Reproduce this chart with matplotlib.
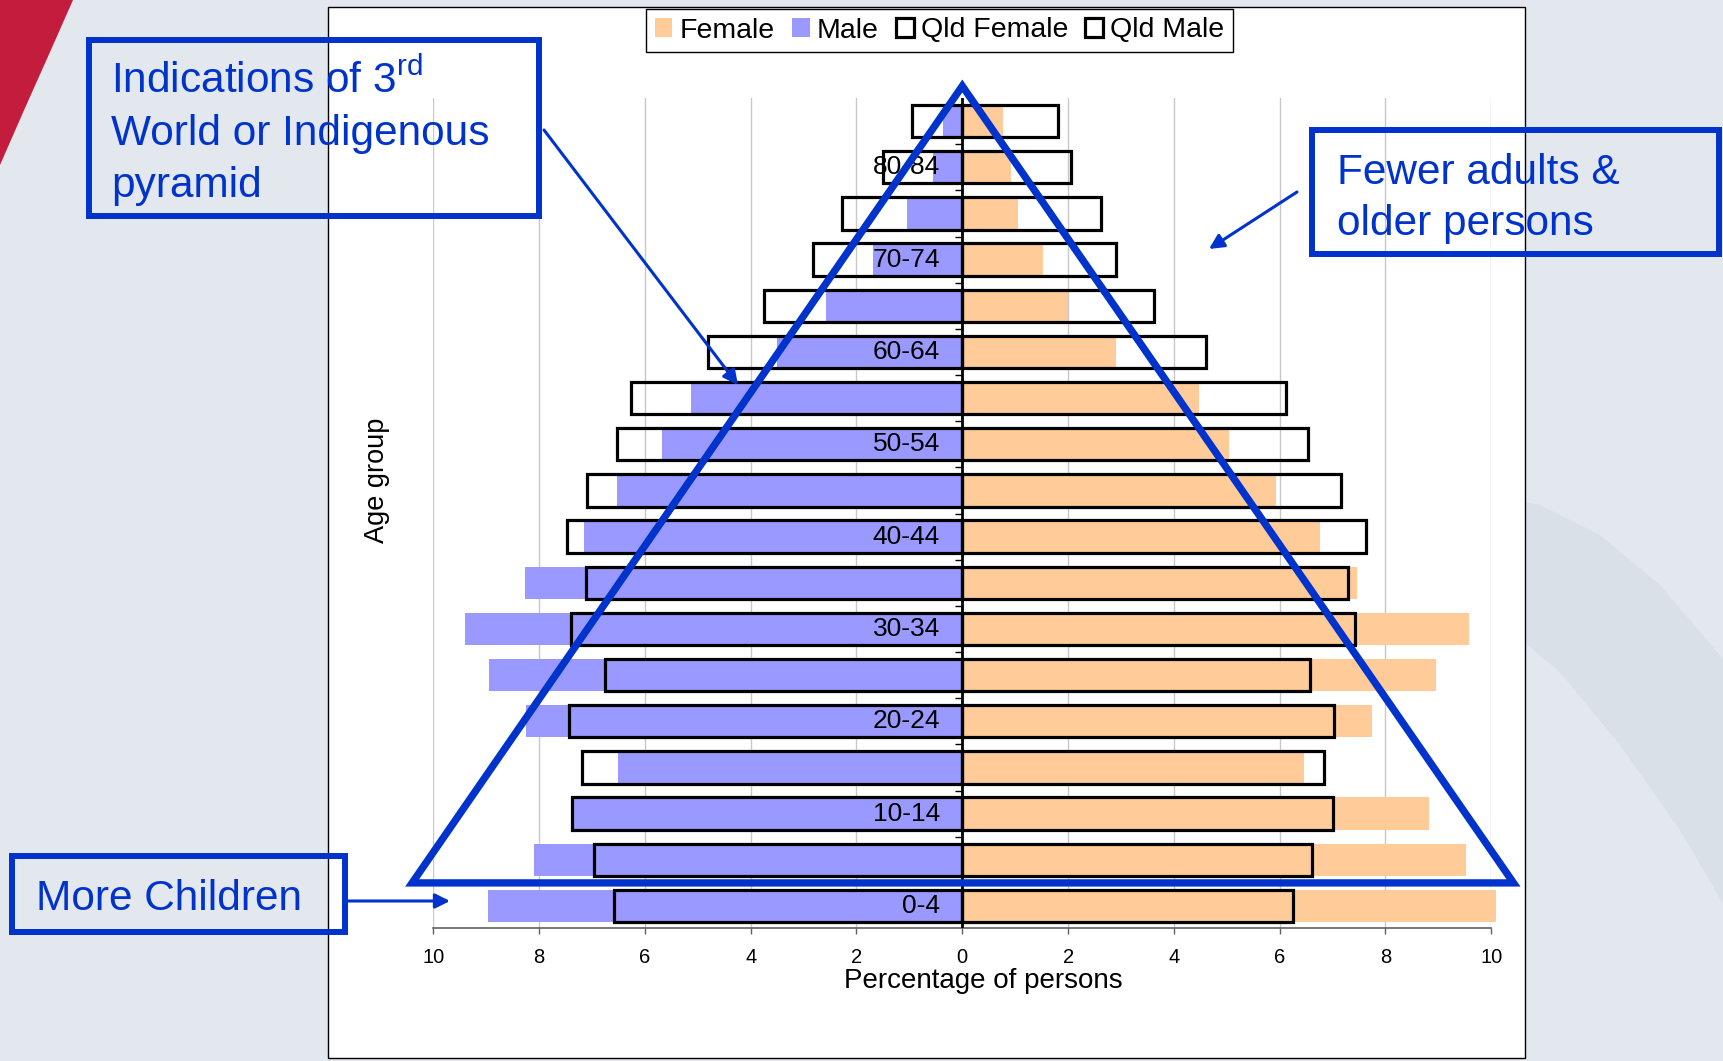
import matplotlib
matplotlib.use('Agg')
import matplotlib.pyplot as plt
from matplotlib.patches import Rectangle, Polygon
import numpy as np

# ---------------- data ----------------
age_groups = ['0-4', '5-9', '10-14', '15-19', '20-24', '25-29', '30-34', '35-39',
              '40-44', '45-49', '50-54', '55-59', '60-64', '65-69', '70-74',
              '75-79', '80-84', '85+']
female = [10.08, 9.52, 8.82, 6.46, 7.75, 8.95, 9.57, 7.46, 6.76, 5.93, 5.04,
          4.47, 2.90, 1.99, 1.52, 1.06, 0.93, 0.76]
male = [8.97, 8.10, 7.36, 6.50, 8.25, 8.95, 9.40, 8.27, 7.15, 6.53, 5.68,
        5.13, 3.51, 2.57, 1.68, 1.05, 0.55, 0.36]
qld_female = [6.26, 6.61, 7.00, 6.84, 7.02, 6.58, 7.42, 7.30, 7.63, 7.16, 6.54,
              6.12, 4.61, 3.63, 2.91, 2.63, 2.05, 1.81]
qld_male = [6.58, 6.97, 7.38, 7.19, 7.43, 6.75, 7.40, 7.11, 7.48, 7.09, 6.53,
            6.27, 4.81, 3.75, 2.83, 2.28, 1.49, 0.95]
x_ticks = [-10, -8, -6, -4, -2, 0, 2, 4, 6, 8, 10]
x_tick_labels = ['10', '8', '6', '4', '2', '0', '2', '4', '6', '8', '10']

# ---------------- style ----------------
W, H = 1724, 1061
BLUE = '#0033CC'
plt.rcParams['font.family'] = ['Liberation Sans', 'DejaVu Sans']
plt.rcParams['mathtext.fontset'] = 'custom'
plt.rcParams['mathtext.rm'] = 'Liberation Sans'
plt.rcParams['mathtext.it'] = 'Liberation Sans:italic'
plt.rcParams['mathtext.bf'] = 'Liberation Sans:bold'

fig = plt.figure(figsize=(W / 100, H / 100), dpi=100, facecolor='#E3E8EF')

# background decorations (pixel coordinates)
bg = fig.add_axes([0, 0, 1, 1], zorder=-10)
bg.set_xlim(0, W)
bg.set_ylim(H, 0)
bg.axis('off')
bg.add_patch(Polygon([(0, 0), (73, 0), (50, 52), (25, 108), (0, 165)],
                     closed=True, fc='#C41C3C', ec='none'))
band = [(1480, 495), (1540, 505), (1600, 535), (1660, 585), (1724, 660),
        (1724, 905), (1680, 830), (1620, 745), (1560, 672), (1500, 622),
        (1480, 612)]
bg.add_patch(Polygon(band, closed=True, fc='#DAE0E8', ec='none'))
bg.add_patch(Rectangle((327.6, 6.6), 1525 - 327.6, 1057.7 - 6.6,
                       fc='white', ec='black', lw=1))

# main chart
ax = fig.add_axes([433.3 / W, 1 - 928.3 / H, 1058 / W, (928.3 - 98) / H], zorder=1)
ax.set_facecolor('none')
y = np.arange(len(age_groups))
h = 0.7
ax.barh(y, female, height=h, color='#FFCC99', zorder=2, label='Female',
        clip_on=False)
ax.barh(y, [-v for v in male], height=h, color='#9999FF', zorder=2,
        label='Male', clip_on=False)
ax.barh(y, qld_female, height=h, fill=False, edgecolor='black', lw=2.3,
        zorder=3, label='Qld Female', clip_on=False)
ax.barh(y, [-v for v in qld_male], height=h, fill=False, edgecolor='black',
        lw=2.3, zorder=3, label='Qld Male', clip_on=False)

for i in range(0, len(age_groups), 2):
    ax.text(-0.42, y[i], age_groups[i], ha='right', va='center', fontsize=19,
            zorder=4)

ax.set_xlim(-10, 10)
ax.set_ylim(-0.483, 17.5)
ax.set_xticks(x_ticks)
ax.set_xticklabels(x_tick_labels, fontsize=14.5)
ax.tick_params(axis='x', length=4.5, width=1, color='#606060', pad=10)
ax.set_yticks([])
for s in ['top', 'right', 'left']:
    ax.spines[s].set_visible(False)
ax.spines['bottom'].set_color('#606060')
ax.spines['bottom'].set_linewidth(1.2)
ax.grid(axis='x', color='#C8C8C8', lw=1)
ax.set_axisbelow(True)
ax.axvline(0, color='black', lw=2, zorder=5)
ax.hlines(y[:-1] + 0.5, -0.13, 0, color='black', lw=1, zorder=5)

ax.set_xlabel('Percentage of persons', fontsize=20)
ax.xaxis.set_label_coords(0.52, -0.063)
ax.xaxis.label.set_verticalalignment('center')
ax.set_ylabel('Age group', fontsize=19.5)
ax.yaxis.set_label_coords(-0.0532, 0.539)
ax.yaxis.label.set_verticalalignment('center')

# pyramid triangle overlay
ax.add_patch(Polygon([(0, 17.76), (-10.4, 0.5), (10.42, 0.5)], closed=True,
                     fill=False, ec=BLUE, lw=5.3, joinstyle='miter',
                     clip_on=False, zorder=6))

handles, labels = ax.get_legend_handles_labels()
leg = fig.legend(handles, labels, loc='center',
                 bbox_to_anchor=(939.5 / W, 1 - 30.5 / H), ncol=4,
                 frameon=True, fancybox=False, edgecolor='black', fontsize=20.5,
                 handlelength=0.63, handleheight=0.63, handletextpad=0.25,
                 columnspacing=0.6, borderpad=0.3, borderaxespad=0,
                 framealpha=1)
leg.get_frame().set_linewidth(1)

# annotation overlay (pixel coordinates)
ov = fig.add_axes([0, 0, 1, 1], zorder=20)
ov.set_xlim(0, W)
ov.set_ylim(H, 0)
ov.axis('off')
ov.patch.set_alpha(0)

ov.add_patch(Rectangle((89, 39.5), 539 - 89, 215.5 - 39.5, fill=False,
                       ec=BLUE, lw=4.3))
ov.text(111.5, 92.7, 'Indications of 3$^{\\mathrm{rd}}$', fontsize=30.5,
        color=BLUE, va='baseline')
ov.text(111.5, 145, 'World or Indigenous', fontsize=30.5, color=BLUE,
        va='baseline')
ov.text(111.5, 197, 'pyramid', fontsize=30.5, color=BLUE, va='baseline')

ov.add_patch(Rectangle((1312.5, 129.7), 1719 - 1312.5, 253.7 - 129.7,
                       fill=False, ec=BLUE, lw=4.3))
ov.text(1336.7, 184, 'Fewer adults &', fontsize=30.5, color=BLUE, va='baseline')
ov.text(1336.7, 235, 'older persons', fontsize=30.5, color=BLUE, va='baseline')

ov.add_patch(Rectangle((12, 855.5), 333, 76, fill=False, ec=BLUE, lw=4.3))
ov.text(36, 910, 'More Children', fontsize=30.5, color=BLUE, va='baseline')

arrow_kw = dict(arrowstyle='-|>', color=BLUE, lw=2.2, mutation_scale=22,
                shrinkA=0, shrinkB=0)
ov.annotate('', xy=(738, 385), xytext=(544, 130), arrowprops=arrow_kw)
ov.annotate('', xy=(1209, 249), xytext=(1297, 192), arrowprops=arrow_kw)
ov.annotate('', xy=(450, 901), xytext=(348, 901), arrowprops=arrow_kw)

fig.savefig('out.png', dpi=100, facecolor=fig.get_facecolor())
